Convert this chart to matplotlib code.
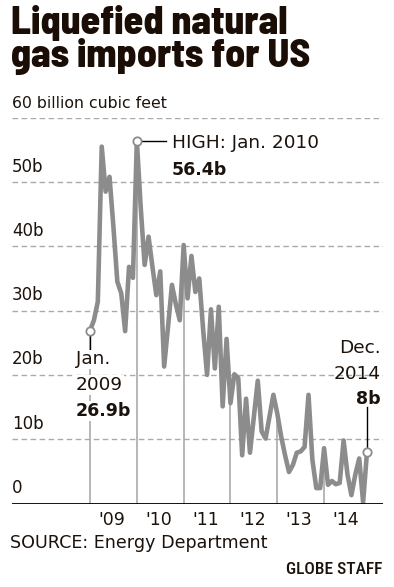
import matplotlib
matplotlib.use('Agg')
import matplotlib.pyplot as plt
import numpy as np

# monthly LNG imports, billion cubic feet, Jan 2009 - Dec 2014
y2009 = [26.9, 28.5, 31.4, 55.5, 48.5, 50.8, 43.0, 34.5, 32.7, 26.8, 36.8, 35.1]
y2010 = [56.4, 46.0, 37.1, 41.5, 36.8, 32.4, 36.1, 21.3, 27.5, 34.0, 31.0, 28.5]
y2011 = [40.2, 31.9, 38.5, 32.9, 35.0, 27.0, 20.0, 30.2, 21.0, 30.6, 15.1, 25.6]
y2012 = [15.6, 20.1, 19.5, 7.5, 16.3, 7.9, 13.5, 19.1, 11.2, 10.1, 13.5, 16.9]
y2013 = [14.0, 10.4, 7.5, 4.9, 6.0, 7.9, 8.1, 8.8, 16.9, 6.8, 2.4, 2.4]
y2014 = [8.6, 2.9, 3.5, 3.0, 3.2, 9.8, 4.5, 1.3, 4.5, 7.0, 0.2, 8.0]
years = ["'09", "'10", "'11", "'12", "'13", "'14"]
y_ticks = [0, 10, 20, 30, 40, 50]
y_labels = ['0', '10b', '20b', '30b', '40b', '50b']

vals = np.array(y2009 + y2010 + y2011 + y2012 + y2013 + y2014)
x = np.arange(len(vals))

W, H = 394, 587
fig = plt.figure(figsize=(W / 100, H / 100), dpi=100)
ax = fig.add_axes([12 / W, (H - 503.5) / H, 371 / W, 385.8 / H])
ax.set_xlim(-20, 75.1)
ax.set_ylim(0, 60)
ax.axis('off')

body = 'DejaVu Sans'
cond = 'Roboto Condensed'
head = 'Barlow Semi Condensed'
ink = '#1c120c'
grid = '#aaaaaa'

# dashed gridlines + labels
for t, lab in zip(y_ticks + [60], y_labels + ['']):
    if t > 0:
        ax.axhline(t, color=grid, lw=1, ls=(0, (4, 2.5)), zorder=1)
    if lab:
        ax.text(-20, t + 1.0, lab, fontsize=12, family=body, color=ink,
                va='bottom', ha='left')
ax.axhline(0, color='black', lw=1.3, zorder=4)

# year boundary lines up to the data
for k in range(len(years)):
    i = 12 * k
    ax.vlines(i, 0, vals[i], color=grid, lw=1.2, zorder=1)
    ax.text(i + 5.6, -1.2, years[k], fontsize=12.5, family=body, color=ink,
            ha='center', va='top')

ax.plot(x, vals, color='#8c8c8c', lw=3.3, solid_joinstyle='round',
        solid_capstyle='round', zorder=3)

# annotations
ihigh = int(np.argmax(vals))
ilast = len(vals) - 1
mk = dict(marker='o', ms=6, mfc='white', mec='#8c8c8c', mew=1.3, zorder=6)
ax.plot([0], [vals[0]], **mk)
ax.plot([ihigh], [vals[ihigh]], **mk)
ax.plot([ilast], [vals[ilast]], **mk)

ax.plot([ihigh + 0.9, ihigh + 7.4], [vals[ihigh]] * 2, color='black', lw=1, zorder=5)
ax.text(ihigh + 9, vals[ihigh] - 0.4, 'HIGH: Jan. 2010', fontsize=13.3, family=body,
        color=ink, va='center', ha='left')
ax.text(ihigh + 9, vals[ihigh] - 4.5, '56.4b', fontsize=12.5, family=body,
        weight='bold', color=ink, va='center', ha='left')

ax.plot([0, 0], [vals[0] - 0.8, 23.6], color='black', lw=1, zorder=5)
box = dict(fc='white', ec='none', pad=0.5)
ax.text(-3.6, 22.4, 'Jan.', fontsize=13.3, family=body, color=ink, va='center',
        ha='left', zorder=7, bbox=box)
ax.text(-3.6, 18.4, '2009', fontsize=13.3, family=body, color=ink, va='center',
        ha='left', zorder=7, bbox=box)
ax.text(-3.6, 14.4, '26.9b', fontsize=12.5, family=body, weight='bold', color=ink,
        va='center', ha='left', zorder=7, bbox=box)

ax.plot([ilast, ilast], [vals[ilast] + 0.8, 15.0], color='black', lw=1, zorder=5)
ax.text(74.4, 24.2, 'Dec.', fontsize=13.3, family=body, color=ink, va='center', ha='right')
ax.text(74.4, 20.2, '2014', fontsize=13.3, family=body, color=ink, va='center', ha='right')
ax.text(74.4, 16.2, '8b', fontsize=12.5, family=body, weight='bold', color=ink,
        va='center', ha='right')

# titles
fig.text(11 / W, 1 - 34 / H, 'Liquefied natural', fontsize=28.5, family=head,
         weight='heavy', color='#1a0d05', va='baseline', ha='left')
fig.text(11 / W, 1 - 67 / H, 'gas imports for US', fontsize=28.5, family=head,
         weight='heavy', color='#1a0d05', va='baseline', ha='left')
fig.text(12 / W, 1 - 103 / H, '60 billion cubic feet', fontsize=11.3, family=body,
         color=ink, va='center', ha='left')
fig.text(10 / W, 1 - 543 / H, 'SOURCE: Energy Department', fontsize=12.6, family=body,
         color=ink, va='center', ha='left')
fig.text(382 / W, 1 - 570 / H, 'GLOBE STAFF', fontsize=12.5, family=cond,
         weight='medium', color=ink, va='center', ha='right')

fig.savefig('out.png', dpi=100, facecolor='white')
